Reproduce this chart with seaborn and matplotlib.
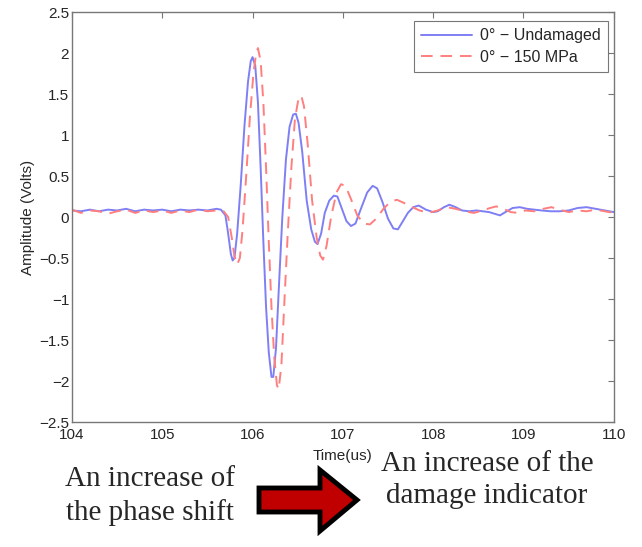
import numpy as np
import pandas as pd
import matplotlib
matplotlib.use("Agg")
import matplotlib.pyplot as plt
import seaborn as sns
from matplotlib.patches import Polygon

# Waveform readings (time in us, amplitude in volts)
t_undamaged = [104.0, 104.1, 104.2, 104.3, 104.4, 104.5, 104.6, 104.7, 104.8, 104.9,
               105.0, 105.1, 105.2, 105.3, 105.4, 105.5, 105.6, 105.65, 105.7, 105.73,
               105.76, 105.78, 105.80, 105.83, 105.87, 105.91, 105.95, 105.98, 106.0, 106.03,
               106.06, 106.09, 106.12, 106.15, 106.18, 106.21, 106.23, 106.26, 106.29, 106.33,
               106.37, 106.41, 106.45, 106.48, 106.51, 106.55, 106.60, 106.65, 106.69, 106.72,
               106.76, 106.80, 106.85, 106.90, 106.94, 106.99, 107.04, 107.09, 107.14, 107.20,
               107.27, 107.33, 107.38, 107.44, 107.50, 107.56, 107.61, 107.66, 107.72, 107.78,
               107.84, 107.92, 108.0, 108.05, 108.12, 108.18, 108.25, 108.32, 108.40, 108.48,
               108.55, 108.62, 108.68, 108.74, 108.80, 108.88, 108.96, 109.04, 109.12, 109.20,
               109.30, 109.40, 109.50, 109.60, 109.70, 109.80, 109.90, 110.0]
a_undamaged = [0.08, 0.07, 0.09, 0.07, 0.09, 0.08, 0.10, 0.07, 0.09, 0.08,
               0.09, 0.07, 0.09, 0.08, 0.09, 0.08, 0.10, 0.09, 0.02, -0.2,
               -0.45, -0.53, -0.50, -0.2, 0.4, 1.1, 1.65, 1.9, 1.95, 1.85,
               1.4, 0.6, -0.3, -1.1, -1.65, -1.95, -1.95, -1.6, -0.9, 0.0,
               0.7, 1.1, 1.25, 1.26, 1.15, 0.8, 0.2, -0.15, -0.3, -0.33,
               -0.2, 0.05, 0.2, 0.26, 0.25, 0.1, -0.05, -0.11, -0.08, 0.1,
               0.3, 0.38, 0.35, 0.18, -0.02, -0.14, -0.15, -0.06, 0.05, 0.12,
               0.14, 0.09, 0.06, 0.07, 0.12, 0.15, 0.12, 0.08, 0.07, 0.08,
               0.07, 0.06, 0.04, 0.02, 0.06, 0.11, 0.12, 0.10, 0.09, 0.08,
               0.07, 0.07, 0.08, 0.11, 0.12, 0.10, 0.08, 0.06]

t_150mpa = [104.0, 104.1, 104.2, 104.3, 104.4, 104.5, 104.6, 104.7, 104.8, 104.9,
            105.0, 105.1, 105.2, 105.3, 105.4, 105.5, 105.6, 105.68, 105.73, 105.77,
            105.80, 105.83, 105.86, 105.89, 105.93, 105.97, 106.01, 106.04, 106.06, 106.09,
            106.12, 106.15, 106.18, 106.21, 106.24, 106.27, 106.29, 106.32, 106.35, 106.39,
            106.43, 106.47, 106.51, 106.54, 106.57, 106.61, 106.66, 106.71, 106.75, 106.78,
            106.82, 106.87, 106.93, 106.98, 107.03, 107.09, 107.16, 107.23, 107.30, 107.37,
            107.45, 107.53, 107.60, 107.68, 107.75, 107.85, 107.95, 108.05, 108.15, 108.25,
            108.35, 108.45, 108.55, 108.63, 108.70, 108.78, 108.86, 108.94, 109.02, 109.12,
            109.22, 109.31, 109.40, 109.50, 109.60, 109.70, 109.80, 109.90, 110.0]
a_150mpa = [0.09, 0.05, 0.08, 0.07, 0.04, 0.07, 0.09, 0.05, 0.08, 0.06,
            0.08, 0.05, 0.08, 0.06, 0.09, 0.07, 0.08, 0.07, 0.0, -0.25,
            -0.48, -0.58, -0.5, -0.15, 0.5, 1.2, 1.75, 2.0, 2.06, 1.9,
            1.4, 0.6, -0.3, -1.1, -1.7, -2.05, -2.1, -1.8, -1.1, -0.2,
            0.6, 1.2, 1.45, 1.48, 1.35, 0.9, 0.2, -0.25, -0.47, -0.52,
            -0.35, 0.0, 0.3, 0.40, 0.38, 0.22, 0.02, -0.08, -0.09, -0.02,
            0.1, 0.19, 0.21, 0.17, 0.13, 0.08, 0.05, 0.08, 0.12, 0.1,
            0.07, 0.05, 0.08, 0.11, 0.13, 0.1, 0.06, 0.05, 0.08, 0.07,
            0.1, 0.12, 0.09, 0.06, 0.08, 0.07, 0.09, 0.07, 0.05]

series_labels = ["0\u00b0 \u2212 Undamaged", "0\u00b0 \u2212 150 MPa"]
x_ticks = [104, 105, 106, 107, 108, 109, 110]
y_ticks = [-2.5, -2, -1.5, -1, -0.5, 0, 0.5, 1, 1.5, 2, 2.5]

sns.set_theme(style="white")
plt.rcParams['font.family'] = ['Liberation Sans', 'DejaVu Sans']

fig = plt.figure(figsize=(6.42, 5.47), dpi=100)
ax = fig.add_axes([0.112, 0.2285, 0.844, 0.7495])

sns.lineplot(x=t_undamaged, y=a_undamaged, ax=ax, color="#7f7ff5", lw=1.4,
             estimator=None, sort=False, label=series_labels[0])
sns.lineplot(x=t_150mpa, y=a_150mpa, ax=ax, color="#ff7f7f", lw=1.4,
             estimator=None, sort=False, label=series_labels[1])
ax.lines[1].set_dashes([6, 4])

ax.set_xlim(104, 110)
ax.set_ylim(-2.5, 2.5)
ax.set_xticks(x_ticks)
ax.set_xticklabels([str(v) for v in x_ticks])
ax.set_yticks(y_ticks)
ax.set_yticklabels([("%g" % v).replace("-", "\u2212") for v in y_ticks])
ax.tick_params(direction="in", length=4, width=0.8, color="#777777",
               labelsize=11, top=True, right=True, pad=2)
ax.tick_params(axis="x", pad=4)
for s in ax.spines.values():
    s.set_color("#777777")
    s.set_linewidth(1.0)
ax.set_xlabel("Time(us)", fontsize=11, labelpad=5)
ax.set_ylabel("Amplitude (Volts)", fontsize=11, labelpad=3)

leg = ax.legend(loc="upper right", fontsize=11.5, handlelength=3.2, frameon=True,
                fancybox=False, edgecolor="#555555", borderpad=0.45,
                labelspacing=0.4, handletextpad=0.5, borderaxespad=0,
                bbox_to_anchor=(0.99, 0.978))
leg.get_frame().set_linewidth(0.8)

# annotation beneath the plot
serif = ['Liberation Serif', 'DejaVu Serif']
fig.text(150 / 642, 1 - 496 / 547, "An increase of\nthe phase shift", ha="center",
         va="center", fontsize=21, family=serif, linespacing=1.3)
fig.text(487 / 642, 1 - 480 / 547, "An increase of the\ndamage indicator", ha="center",
         va="center", fontsize=21, family=serif, linespacing=1.3)

arrow_px = [(259, 488), (320, 488), (320, 470), (357, 500), (320, 531), (320, 512), (259, 512)]
arrow_in = [(px / 100, (547 - py) / 100) for px, py in arrow_px]
fig.patches.append(Polygon(arrow_in, closed=True, facecolor="#c00000", edgecolor="black",
                           linewidth=3.5, joinstyle="miter",
                           transform=fig.dpi_scale_trans, figure=fig))

fig.savefig("out.png", dpi=100)
